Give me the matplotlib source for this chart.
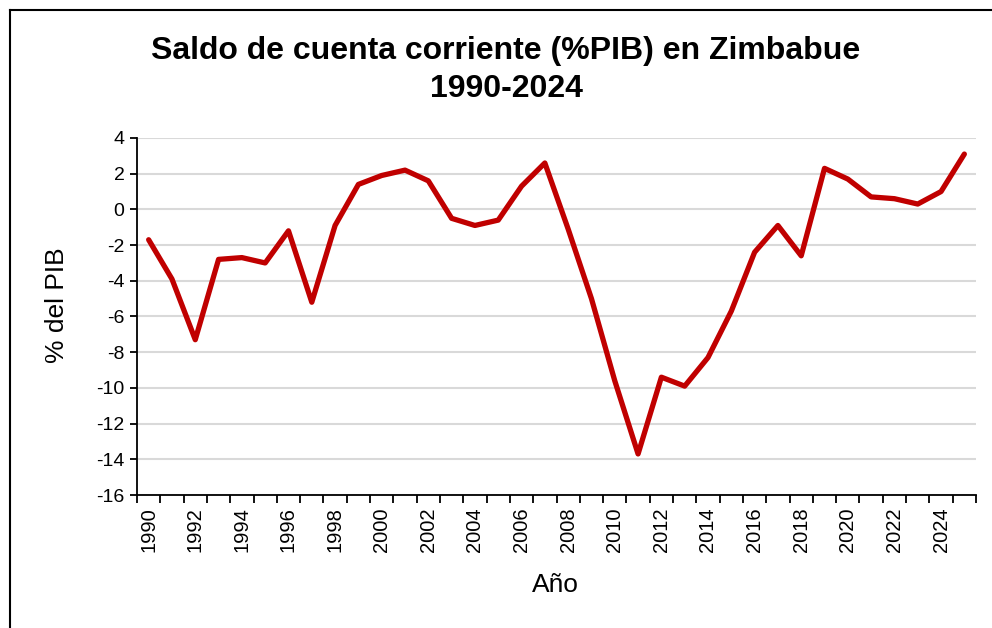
import matplotlib
matplotlib.use("Agg")
import matplotlib.pyplot as plt
from matplotlib.lines import Line2D
import numpy as np

plt.rcParams['font.family'] = ['Liberation Sans', 'DejaVu Sans']

years = list(range(1990, 2026))
values = [-1.7, -3.9, -7.3, -2.8, -2.7, -3.0, -1.2, -5.2, -0.9, 1.4,
          1.9, 2.2, 1.6, -0.5, -0.9, -0.6, 1.3, 2.6, -1.1, -5.0,
          -9.6, -13.7, -9.4, -9.9, -8.3, -5.7, -2.4, -0.9, -2.6, 2.3,
          1.7, 0.7, 0.6, 0.3, 1.0, 3.1]
y_ticks = [-16, -14, -12, -10, -8, -6, -4, -2, 0, 2, 4]
title = "Saldo de cuenta corriente (%PIB) en Zimbabue\n1990-2024"
xlabel = "Año"
ylabel = "% del PIB"

W, H = 992, 628
fig = plt.figure(figsize=(W / 100, H / 100), dpi=100)
ax = fig.add_axes([137 / W, 1 - 495 / H, (976 - 137) / W, (495 - 138) / H])

x = np.arange(len(years))
ax.plot(x, values, color='#c00000', lw=3.8, solid_joinstyle='round', solid_capstyle='round', zorder=3)

ax.set_xlim(-0.5, len(years) - 0.5)
ax.set_ylim(-16, 4)
ax.set_yticks(y_ticks)
ax.set_yticklabels([str(v) for v in y_ticks])
ax.grid(axis='y', color='#d9d9d9', lw=1.5, zorder=0)
ax.set_axisbelow(True)

major_pos = x[::2]
ax.set_xticks(major_pos)
ax.set_xticklabels([str(years[i]) for i in major_pos], rotation=90)
ax.set_xticks(np.arange(-0.5, len(years), 1), minor=True)
ax.tick_params(axis='x', which='major', length=0, pad=9, labelsize=14.5)
ax.tick_params(axis='x', which='minor', length=6, width=1.3, direction='out')
ax.tick_params(axis='y', which='major', length=5, width=1.3, direction='out', labelsize=14, pad=4)

for s in ['top', 'right']:
    ax.spines[s].set_visible(False)
for s in ['left', 'bottom']:
    ax.spines[s].set_linewidth(1.3)
    ax.spines[s].set_color('black')

fig.text(506 / W, 1 - 70 / H, title, ha='center', va='center', fontsize=23,
         fontweight='bold', linespacing=1.35)
fig.text(57 / W, 1 - 305 / H, ylabel, rotation=90, ha='center', va='center', fontsize=19)
fig.text(555 / W, 1 - 585 / H, xlabel, ha='center', va='center', fontsize=19)

# chart border
fig.add_artist(Line2D([10 / W, 1.0], [1 - 10 / H, 1 - 10 / H], color='black', lw=1.5, transform=fig.transFigure))
fig.add_artist(Line2D([10 / W, 10 / W], [0, 1 - 10 / H], color='black', lw=1.5, transform=fig.transFigure))

fig.savefig('out.png', dpi=100, facecolor='white')
